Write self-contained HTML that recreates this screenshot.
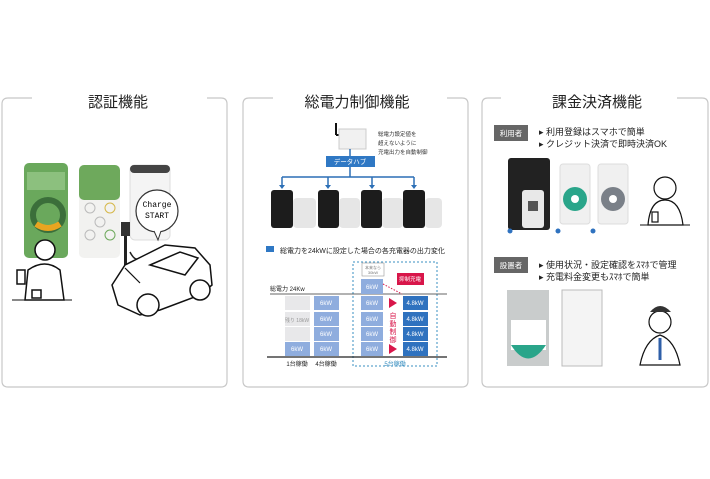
<!DOCTYPE html>
<html><head><meta charset="utf-8"><style>
body{margin:0;background:#fff;width:710px;height:474px;overflow:hidden;font-family:"Liberation Sans","Noto Sans CJK JP",sans-serif}
</style></head><body>
<svg width="710" height="474" viewBox="0 0 710 474" xmlns="http://www.w3.org/2000/svg" font-family="Liberation Sans, Noto Sans CJK JP, sans-serif">
<g fill="none" stroke="#c8c8c8" stroke-width="1.2">
<path d="M32 98 H8 Q2 98 2 104 V381 Q2 387 8 387 H221 Q227 387 227 381 V104 Q227 98 221 98 H207"/>
<path d="M273 98 H249 Q243 98 243 104 V381 Q243 387 249 387 H462 Q468 387 468 381 V104 Q468 98 462 98 H447"/>
<path d="M501 98 H488 Q482 98 482 104 V381 Q482 387 488 387 H702 Q708 387 708 381 V104 Q708 98 702 98 H677"/>
</g>
<g font-size="15" fill="#222" text-anchor="middle">
<text x="118" y="107">認証機能</text>
<text x="357" y="107">総電力制御機能</text>
<text x="597" y="107">課金決済機能</text>
</g>

<!-- LEFT panel -->
<rect x="24" y="163" width="44" height="95" rx="5" fill="#6aa85c"/>
<rect x="27" y="172" width="38" height="18" fill="#8cc07e"/>
<circle cx="48" cy="215" r="15" fill="none" stroke="#3b6e3a" stroke-width="6"/>
<path d="M36 224 Q48 232 60 224" stroke="#e8a520" stroke-width="6" fill="none"/>
<rect x="79" y="165" width="41" height="93" rx="5" fill="#f2f2f0"/>
<rect x="79" y="165" width="41" height="35" rx="5" fill="#6ea95c"/>
<circle cx="90" cy="208" r="5" fill="none" stroke="#bbb"/><circle cx="110" cy="208" r="5" fill="none" stroke="#d6b84a"/>
<circle cx="100" cy="222" r="5" fill="none" stroke="#bbb"/><circle cx="90" cy="235" r="5" fill="none" stroke="#bbb"/><circle cx="110" cy="235" r="5" fill="none" stroke="#6ea95c"/>
<rect x="130" y="165" width="40" height="75" rx="5" fill="#f4f4f4" stroke="#ddd"/>
<rect x="130" y="165" width="40" height="8" rx="4" fill="#444"/>
<circle cx="157" cy="211" r="21" fill="#fff" stroke="#333" stroke-width="1.2"/>
<path d="M154 231 L158 240 L161 231" fill="#fff" stroke="#333"/>
<text x="157" y="207" font-size="8" font-family="Liberation Mono, monospace" text-anchor="middle">Charge</text>
<text x="157" y="218" font-size="8" font-family="Liberation Mono, monospace" text-anchor="middle">START</text>
<rect x="121" y="222" width="9" height="14" fill="#333"/>
<rect x="124" y="236" width="3" height="34" fill="#222"/>
<path d="M130 252 Q135 262 140 258" fill="none" stroke="#222" stroke-width="1.5"/>
<g fill="#fff" stroke="#111" stroke-width="1.5">
<path d="M112 285 L125 265 L145 255 L165 245 L195 248 L210 265 L212 285 L200 295 L160 310 L140 315 L118 305 Z"/>
<path d="M150 265 L180 252 L198 258 L185 275 Z"/>
<circle cx="200" cy="290" r="10"/><circle cx="148" cy="305" r="11"/>
<circle cx="45" cy="250" r="10"/>
<path d="M28 270 Q45 258 60 270 L64 300 L25 300 Z"/>
<rect x="17" y="270" width="8" height="14"/>
<rect x="32" y="290" width="9" height="8"/>
</g>
<line x1="125" y1="268" x2="140" y2="283" stroke="#111" stroke-width="1.2"/>
<line x1="12" y1="300" x2="72" y2="300" stroke="#111"/>

<!-- MIDDLE panel -->
<line x1="336" y1="123" x2="336" y2="135" stroke="#111" stroke-width="2"/>
<line x1="336" y1="135" x2="341" y2="135" stroke="#111" stroke-width="2"/>
<rect x="339" y="129" width="27" height="20" fill="#f1f1f1" stroke="#ccc"/>
<line x1="350" y1="149" x2="350" y2="156" stroke="#2c6fb6" stroke-width="1.5"/>
<g font-size="5.5" fill="#333"><text x="378" y="136">総電力設定値を</text><text x="378" y="145">超えないように</text><text x="378" y="154">充電出力を自動制御</text></g>
<rect x="326" y="156" width="49" height="11" fill="#2f78c4"/>
<text x="350" y="164" font-size="6.5" fill="#fff" text-anchor="middle">データハブ</text>
<g stroke="#2c6fb6" stroke-width="1.5" fill="none">
<line x1="350" y1="167" x2="350" y2="177"/><line x1="282" y1="177" x2="414" y2="177"/>
<line x1="282" y1="177" x2="282" y2="186"/><line x1="328" y1="177" x2="328" y2="186"/><line x1="372" y1="177" x2="372" y2="186"/><line x1="414" y1="177" x2="414" y2="186"/>
</g>
<g fill="#2c6fb6"><path d="M279 185h6l-3 4z"/><path d="M325 185h6l-3 4z"/><path d="M369 185h6l-3 4z"/><path d="M411 185h6l-3 4z"/></g>
<g>
<rect x="293" y="198" width="23" height="30" rx="4" fill="#e6e6e6"/><rect x="271" y="190" width="22" height="38" rx="3" fill="#1c1c1c"/>
<rect x="339" y="198" width="21" height="30" rx="4" fill="#e6e6e6"/><rect x="318" y="190" width="21" height="38" rx="3" fill="#1c1c1c"/>
<rect x="382" y="198" width="21" height="30" rx="4" fill="#e6e6e6"/><rect x="361" y="190" width="21" height="38" rx="3" fill="#1c1c1c"/>
<rect x="425" y="198" width="17" height="30" rx="4" fill="#e6e6e6"/><rect x="403" y="190" width="22" height="38" rx="3" fill="#1c1c1c"/>
</g>
<rect x="266" y="246" width="8" height="6" fill="#2f78c4"/>
<text x="280" y="253" font-size="7" fill="#222">総電力を24kWに設定した場合の各充電器の出力変化</text>
<rect x="353" y="262" width="84" height="104" fill="none" stroke="#3a8fc0" stroke-dasharray="2,2"/>
<text x="270" y="291" font-size="6" fill="#222">総電力 24Kw</text>
<line x1="270" y1="294" x2="447" y2="294" stroke="#333" stroke-width="0.8"/>
<line x1="267" y1="357" x2="447" y2="357" stroke="#222" stroke-width="1.2"/>
<g fill="#e8e8ea"><rect x="285" y="296" width="25" height="14"/><rect x="285" y="312" width="25" height="14"/><rect x="285" y="327" width="25" height="14"/></g>
<text x="297" y="322" font-size="5" fill="#999" text-anchor="middle">残り 18kW</text>
<g fill="#8fadde"><rect x="285" y="342" width="25" height="14"/>
<rect x="314" y="296" width="25" height="14"/><rect x="314" y="312" width="25" height="14"/><rect x="314" y="327" width="25" height="14"/><rect x="314" y="342" width="25" height="14"/>
<rect x="361" y="279" width="22" height="15"/><rect x="361" y="296" width="22" height="14"/><rect x="361" y="312" width="22" height="14"/><rect x="361" y="327" width="22" height="14"/><rect x="361" y="342" width="22" height="14"/></g>
<g fill="#2f72bf"><rect x="403" y="296" width="25" height="14"/><rect x="403" y="312" width="25" height="14"/><rect x="403" y="327" width="25" height="14"/><rect x="403" y="342" width="25" height="14"/></g>
<g font-size="6" fill="#fff" text-anchor="middle">
<text x="297" y="351">6kW</text><text x="326" y="305">6kW</text><text x="326" y="321">6kW</text><text x="326" y="336">6kW</text><text x="326" y="351">6kW</text>
<text x="372" y="289">6kW</text><text x="372" y="305">6kW</text><text x="372" y="321">6kW</text><text x="372" y="336">6kW</text><text x="372" y="351">6kW</text>
<text x="415" y="305">4.8kW</text><text x="415" y="321">4.8kW</text><text x="415" y="336">4.8kW</text><text x="415" y="351">4.8kW</text></g>
<rect x="362" y="263" width="22" height="13" fill="#fff" stroke="#999" stroke-width="0.6"/>
<text x="373" y="269" font-size="4" fill="#777" text-anchor="middle">本来なら</text><text x="373" y="274" font-size="4" fill="#777" text-anchor="middle">30kW</text>
<rect x="397" y="273" width="27" height="12" fill="#d8164a"/>
<text x="410" y="281" font-size="5.5" fill="#fff" text-anchor="middle">抑制充電</text>
<line x1="383" y1="284" x2="402" y2="294" stroke="#d8164a" stroke-dasharray="1.5,1.5"/>
<g fill="#d8164a"><path d="M389 298 l8 5 l-8 5z"/><path d="M389 344 l8 5 l-8 5z"/></g>
<g font-size="7" fill="#d8164a" text-anchor="middle"><text x="393" y="318">自</text><text x="393" y="326">動</text><text x="393" y="334">制</text><text x="393" y="342">御</text></g>
<g font-size="6" fill="#222" text-anchor="middle"><text x="297" y="366">1台稼働</text><text x="326" y="366">4台稼働</text><text x="395" y="366" fill="#3a8fc0">5台稼働</text></g>

<!-- RIGHT panel -->
<rect x="494" y="125" width="34" height="16" fill="#666"/>
<text x="511" y="136" font-size="7.5" fill="#fff" text-anchor="middle">利用者</text>
<g font-size="9" fill="#222"><text x="539" y="135">▸ 利用登録はスマホで簡単</text><text x="539" y="147">▸ クレジット決済で即時決済OK</text></g>
<rect x="508" y="158" width="42" height="72" rx="3" fill="#222"/>
<rect x="522" y="190" width="22" height="38" rx="3" fill="#e8e8e8"/>
<rect x="528" y="201" width="10" height="10" fill="#555"/>
<rect x="560" y="164" width="30" height="60" rx="3" fill="#f0f0f0" stroke="#ddd"/>
<circle cx="575" cy="199" r="12" fill="#2aa58a"/><circle cx="575" cy="199" r="4" fill="#fff"/>
<rect x="598" y="164" width="30" height="60" rx="3" fill="#f0f0f0" stroke="#ddd"/>
<circle cx="613" cy="199" r="12" fill="#7a8088"/><circle cx="613" cy="199" r="4" fill="#fff"/>
<g fill="#2f72bf"><circle cx="510" cy="231" r="2.5"/><circle cx="558" cy="231" r="2.5"/><circle cx="593" cy="231" r="2.5"/></g>
<g fill="#fff" stroke="#111" stroke-width="1.2"><circle cx="665" cy="188" r="11"/><path d="M648 225 Q650 200 665 200 Q680 200 683 225Z"/><rect x="652" y="212" width="6" height="10"/></g>
<line x1="640" y1="225" x2="690" y2="225" stroke="#111"/>
<rect x="494" y="257" width="34" height="16" fill="#666"/>
<text x="511" y="268" font-size="7.5" fill="#fff" text-anchor="middle">設置者</text>
<g font-size="9" fill="#222"><text x="539" y="268">▸ 使用状況・設定確認をｽﾏﾎで管理</text><text x="539" y="280">▸ 充電料金変更もｽﾏﾎで簡単</text></g>
<rect x="507" y="290" width="42" height="76" fill="#c9cccc"/>
<rect x="511" y="320" width="35" height="30" fill="#fff"/>
<path d="M511 345 Q528 372 546 345Z" fill="#2aa58a"/>
<rect x="562" y="290" width="40" height="76" fill="#f4f4f4" stroke="#bbb"/>
<g fill="#fff" stroke="#111" stroke-width="1.2"><circle cx="660" cy="322" r="11"/><path d="M640 365 Q645 340 660 335 Q675 340 680 365Z"/></g>
<path d="M650 312 Q660 300 671 312" fill="#333"/>
<line x1="660" y1="338" x2="660" y2="360" stroke="#2f5fa8" stroke-width="3"/>
</svg>
</body></html>
